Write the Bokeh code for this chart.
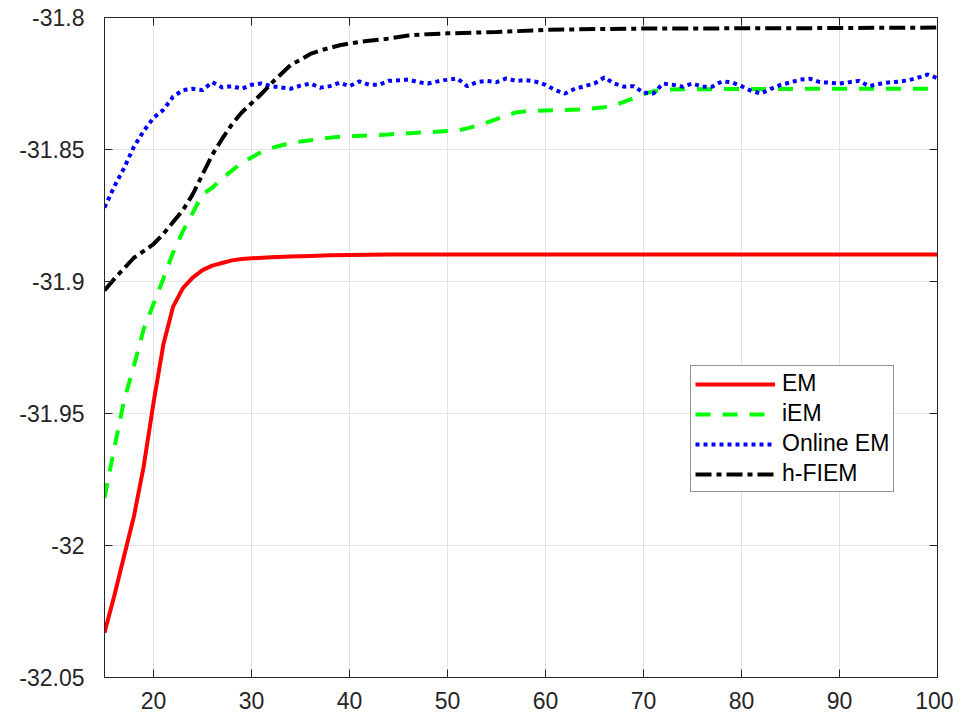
from bokeh.plotting import figure
from bokeh.models import (Range1d, FixedTicker, CustomJSTickFormatter, LinearAxis,
                          Legend, LegendItem)
from bokeh.embed import file_html
from bokeh.resources import INLINE

# ---------------- data ----------------
x_em = [15, 16, 17, 18, 19, 20, 21, 22, 23, 24, 25, 26, 27, 28, 29, 30, 32, 34, 36, 38, 40, 44,
        50, 60, 70, 80, 90, 100]
y_em = [-32.033, -32.019, -32.004, -31.989, -31.970, -31.946, -31.924, -31.9095, -31.9025,
        -31.8985, -31.8957, -31.894, -31.893, -31.892, -31.8915, -31.8912, -31.8908, -31.8905,
        -31.8903, -31.8901, -31.8900, -31.8898, -31.8898, -31.8898, -31.8898, -31.8898,
        -31.8898, -31.8898]

x_iem = [15, 16, 17, 18, 19, 20, 21, 22, 23, 24, 25, 26, 27, 28, 29, 30, 31, 32, 33, 34, 35,
         36, 37, 38, 39, 40, 42, 44, 46, 48, 50, 51, 52, 53, 54, 55, 56, 57, 58, 60, 62, 64,
         66, 67, 68, 69, 70, 71, 72, 74, 80, 90, 100]
y_iem = [-31.982, -31.963, -31.945, -31.932, -31.918, -31.9085, -31.899, -31.889, -31.881,
         -31.874, -31.867, -31.8645, -31.861, -31.858, -31.855, -31.853, -31.851, -31.8495,
         -31.8485, -31.8475, -31.847, -31.8465, -31.846, -31.8455, -31.8452, -31.845,
         -31.8447, -31.8443, -31.8438, -31.8435, -31.843, -31.8428, -31.842, -31.841,
         -31.8398, -31.8385, -31.837, -31.836, -31.8355, -31.8352, -31.835, -31.8348,
         -31.834, -31.8333, -31.832, -31.8306, -31.829, -31.828, -31.8273, -31.8272,
         -31.8271, -31.827, -31.827]

x_online = list(range(15, 101))
y_online = [-31.872, -31.864, -31.857, -31.849, -31.843, -31.838, -31.835, -31.830, -31.8275,
            -31.827, -31.8275, -31.8245, -31.8265, -31.826, -31.827, -31.8255, -31.825,
            -31.826, -31.8265, -31.827, -31.8258, -31.825, -31.8266, -31.826, -31.8247,
            -31.826, -31.8242, -31.8255, -31.8255, -31.824, -31.8238, -31.8235, -31.8245,
            -31.825, -31.8242, -31.8235, -31.8231, -31.826, -31.8245, -31.824, -31.8245,
            -31.8231, -31.824, -31.8237, -31.8243, -31.8255, -31.8275, -31.8288, -31.827,
            -31.826, -31.825, -31.8227, -31.825, -31.8262, -31.826, -31.8285, -31.8288,
            -31.825, -31.8255, -31.8262, -31.825, -31.8262, -31.8262, -31.8242, -31.8245,
            -31.826, -31.8278, -31.8288, -31.827, -31.8255, -31.8246, -31.8235, -31.8232,
            -31.8245, -31.8247, -31.825, -31.8245, -31.824, -31.826, -31.8252, -31.8246,
            -31.8243, -31.8238, -31.8228, -31.8216, -31.823]

x_hfiem = [15, 16, 17, 18, 19, 20, 21, 22, 23, 24, 25, 26, 27, 28, 29, 30, 31, 32, 33, 34, 35,
           36, 37, 38, 39, 40, 42, 44, 46, 48, 50, 55, 60, 65, 70, 80, 90, 100]
y_hfiem = [-31.9034, -31.899, -31.895, -31.891, -31.8885, -31.8858, -31.882, -31.8775,
           -31.873, -31.867, -31.8595, -31.852, -31.846, -31.8405, -31.836, -31.8325,
           -31.829, -31.825, -31.8215, -31.818, -31.816, -31.8138, -31.8125, -31.8115,
           -31.8105, -31.8098, -31.8088, -31.808, -31.8068, -31.8063, -31.806, -31.8055,
           -31.8047, -31.8044, -31.8042, -31.8041, -31.804, -31.8038]

series_names = ["EM", "iEM", "Online EM", "h-FIEM"]
x_ticks = [20, 30, 40, 50, 60, 70, 80, 90, 100]
y_ticks = [-32.05, -32.0, -31.95, -31.9, -31.85, -31.8]

# ---------------- figure ----------------
FONT = "Liberation Sans"
TXT = "#262626"
p = figure(output_backend="svg", toolbar_location=None,
           frame_width=833, frame_height=660,
           min_border_left=104, min_border_right=16, min_border_top=17, min_border_bottom=38,
           x_range=Range1d(15, 100), y_range=Range1d(-32.05, -31.8),
           background_fill_color="white", border_fill_color="white")
p.outline_line_color = TXT
p.outline_line_width = 1
p.outline_line_alpha = 1

fmt = CustomJSTickFormatter(code="""
var s = tick.toFixed(2);
s = s.replace(/0+$/, '').replace(/\\.$/, '');
return s;
""")
blank = CustomJSTickFormatter(code="return '';")

for ax in (p.xaxis[0], p.yaxis[0]):
    ax.major_label_text_font = FONT
    ax.major_label_text_font_size = "23px"
    ax.major_label_text_color = TXT
    ax.axis_line_color = TXT
    ax.major_tick_line_color = TXT
    ax.major_tick_in = 8
    ax.major_tick_out = 0
    ax.minor_tick_line_color = None
p.xaxis[0].ticker = FixedTicker(ticks=x_ticks)
p.yaxis[0].ticker = FixedTicker(ticks=y_ticks)
p.yaxis[0].formatter = fmt
p.xaxis[0].major_label_standoff = 14
p.yaxis[0].major_label_standoff = 20

for loc, ticks in (("above", x_ticks), ("right", y_ticks)):
    ax = LinearAxis(ticker=FixedTicker(ticks=ticks), formatter=blank)
    ax.major_label_standoff = 0
    ax.axis_line_color = TXT
    ax.major_tick_line_color = TXT
    ax.major_tick_in = 8
    ax.major_tick_out = 0
    ax.minor_tick_line_color = None
    p.add_layout(ax, loc)

p.xgrid.ticker = FixedTicker(ticks=x_ticks)
p.ygrid.ticker = FixedTicker(ticks=y_ticks)
p.grid.grid_line_color = "#e3e3e3"
p.grid.grid_line_width = 1

r_em = p.line(x_em, y_em, line_color="#ff0000", line_width=4)
r_iem = p.line(x_iem, y_iem, line_color="#00ff00", line_width=4, line_dash="15 12")
r_on = p.line(x_online, y_online, line_color="#0000ff", line_width=4, line_dash="4 4")
r_hf = p.line(x_hfiem, y_hfiem, line_color="#000000", line_width=4, line_dash="16 5 5 5")

legend = Legend(items=[LegendItem(label=n, renderers=[r]) for n, r in
                       zip(series_names, [r_em, r_iem, r_on, r_hf])],
                location=(586, 185))
legend.label_text_font = FONT
legend.label_text_font_size = "23px"
legend.label_text_color = "#000000"
legend.glyph_width = 80
legend.glyph_height = 22
legend.label_height = 22
legend.label_standoff = 7
legend.spacing = 3
legend.padding = 4
legend.margin = 0
legend.border_line_color = TXT
legend.border_line_width = 1
legend.background_fill_color = "white"
legend.background_fill_alpha = 1
p.add_layout(legend, "center")

open("out.html", "w").write(file_html(p, INLINE))
